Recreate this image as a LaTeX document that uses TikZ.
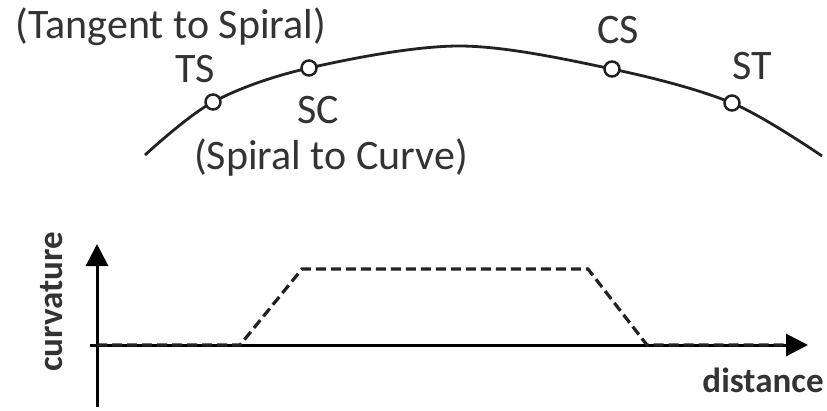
\documentclass[tikz,border=0pt]{standalone}
\usepackage{fontspec}
\setmainfont{Carlito}
\usetikzlibrary{arrows.meta}
\definecolor{ink}{HTML}{333333}
\definecolor{lin}{HTML}{222222}
\tikzset{
  lbl/.style={text=ink, font=\fontsize{42}{45}\selectfont, inner sep=0pt},
  axlbl/.style={text=ink, font=\fontsize{35}{37}\selectfont\bfseries, inner sep=0pt},
  pt/.style={circle, draw=lin, fill=white, line width=2.5pt, minimum size=15pt, inner sep=0pt},
  road/.style={draw=lin, line width=2.8pt},
  axis/.style={draw=black, line width=3pt, -{Triangle[length=22pt,width=22pt]}},
  curv/.style={draw=lin, line width=3.2pt, dash pattern=on 10pt off 5pt}
}
\begin{document}
\begin{tikzpicture}[x=1pt,y=-1pt]
\useasboundingbox (0,0) rectangle (827,410);
% road curve
\coordinate (s0) at (145,155);
\coordinate (ts) at (213,102);
\coordinate (sc) at (309,68);
\coordinate (pk) at (460,46);
\coordinate (cs) at (612,69);
\coordinate (st) at (732,103);
\coordinate (s1) at (822,156);
\draw[road] plot[smooth, tension=0.55] coordinates {(s0) (ts) (sc) (pk) (cs) (st) (s1)};
\node[pt] (nts) at (ts) {};
\node[pt] (nsc) at (sc) {};
\node[pt] (ncs) at (cs) {};
\node[pt] (nst) at (st) {};
% labels
\node[lbl] (tts) at (171,27) {(Tangent to Spiral)};
\node[lbl] (lts) at (195,69) {TS};
\node[lbl] (lsc) at (318,110) {SC};
\node[lbl] (tsc) at (331,158) {(Spiral to Curve)};
\node[lbl] (lcs) at (618,30) {CS};
\node[lbl] (lst) at (752,66) {ST};
% graph
\coordinate (vb) at (97,407);
\coordinate (vt) at (97,244);
\coordinate (hl) at (90,345);
\coordinate (hr) at (808,345);
\draw[axis] (vb) -- (vt);
\draw[axis] (hl) -- (hr);
\coordinate (c0) at (97,345);
\coordinate (c1) at (240,345);
\coordinate (c2) at (302,269);
\coordinate (c3) at (588,269);
\coordinate (c4) at (647,345);
\coordinate (c5) at (785,345);
\draw[curv] (c0) -- (c1) -- (c2) -- (c3) -- (c4) -- (c5);
\node[axlbl, rotate=90] (lcurv) at (52,302) {curvature};
\node[axlbl] (ldist) at (763,380) {distance};
\end{tikzpicture}
\end{document}
